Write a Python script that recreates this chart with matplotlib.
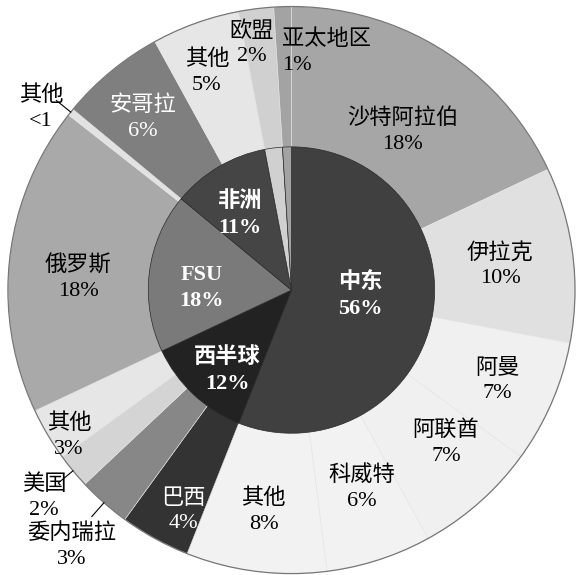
import numpy as np
import matplotlib
matplotlib.use('Agg')
import matplotlib.pyplot as plt

plt.rcParams['font.family'] = ['Liberation Serif', 'Noto Sans CJK SC']

# inner ring: regions
inner_names = ["中东", "西半球", "FSU", "非洲", "", ""]
inner_pct = ["56%", "12%", "18%", "11%", "", ""]
inner_vals = [56, 12, 18, 11, 2, 1]
inner_colors = ["#404040", "#222222", "#7a7a7a", "#454545", "#d0d0d0", "#a3a3a3"]

# outer ring: countries
outer_names = ["沙特阿拉伯", "伊拉克", "阿曼", "阿联酋", "科威特", "其他",
               "巴西", "委内瑞拉", "美国", "其他",
               "俄罗斯", "其他",
               "安哥拉", "其他",
               "欧盟", "亚太地区"]
outer_pct = ["18%", "10%", "7%", "7%", "6%", "8%",
             "4%", "3%", "2%", "3%",
             "18%", "<1",
             "6%", "5%",
             "2%", "1%"]
outer_vals = [18, 10, 7, 7, 6, 8,
              4, 3, 2, 3,
              17.6, 0.4,
              6, 5,
              2, 1]
outer_colors = ["#a6a6a6", "#e0e0e0", "#f0f0f0", "#f0f0f0", "#f2f2f2", "#f2f2f2",
                "#333333", "#878787", "#d4d4d4", "#e6e6e6",
                "#a9a9a9", "#e2e2e2",
                "#7f7f7f", "#e6e6e6",
                "#d0d0d0", "#a3a3a3"]
outer_text = ["black"] * 6 + ["white", "black", "black", "black",
                              "black", "black", "white", "black", "black", "black"]

# label placement (radius, angle offset in degrees, alignment)
outer_r = [0.685, 0.741, 0.793, 0.767, 0.741, 0.786, 0.868, 1.189, 1.138, 0.939,
           0.754, 1.092, 0.802, 0.825, 0.88, 0.84]
outer_dang = [-2.6, -0.4, -0.5, 3.9, 1.6, 0, 2.7, 0.8, 0.3, 2.7,
              3.3, 2.9, 1.2, 1.4, 1.9, 0.5]
outer_ha = ["center"] * 15 + ["left"]
leader = [False] * 7 + [True, True, False, False, True, False, False, False, False]
inner_r = [0.242, 0.365, 0.318, 0.321]
inner_dang = [6.6, 4.7, 6.0, 3.9]

fig = plt.figure(figsize=(5.76, 5.75), dpi=100)
ax = fig.add_axes([0, 0, 1, 1])

ax.pie(outer_vals, radius=1.0, colors=outer_colors, startangle=90, counterclock=False,
       wedgeprops=dict(edgecolor="#e4e4e4", linewidth=0.4))
ax.pie(inner_vals, radius=0.505, colors=inner_colors, startangle=90, counterclock=False,
       wedgeprops=dict(edgecolor="#2a2a2a", linewidth=0.5))
ax.add_patch(plt.Circle((0, 0), 1.0, fill=False, edgecolor="#777777", linewidth=0.9))

def mid_angles(vals):
    v = np.asarray(vals, dtype=float)
    cum = np.cumsum(v) / v.sum() * 360
    start = np.concatenate([[0], cum[:-1]])
    return 90 - (start + cum) / 2

ang_out = mid_angles(outer_vals)
for i, name in enumerate(outer_names):
    a = np.deg2rad(ang_out[i] + outer_dang[i])
    x, y = outer_r[i] * np.cos(a), outer_r[i] * np.sin(a)
    ax.text(x, y, name + "\n" + outer_pct[i], ha=outer_ha[i], va="center",
            multialignment="center" if outer_ha[i] == "center" else "left",
            fontsize=16, color=outer_text[i], linespacing=1.4)
    if leader[i]:
        b = np.deg2rad(ang_out[i])
        ax.plot([1.0 * np.cos(b), 1.065 * np.cos(b)], [1.0 * np.sin(b), 1.065 * np.sin(b)],
                color="black", linewidth=0.8)

ang_in = mid_angles(inner_vals)
for i in range(4):
    a = np.deg2rad(ang_in[i] + inner_dang[i])
    x, y = inner_r[i] * np.cos(a), inner_r[i] * np.sin(a)
    ax.text(x, y, inner_names[i] + "\n" + inner_pct[i], ha="center", va="center",
            fontsize=16, color="white", fontweight="bold", linespacing=1.4)

ax.set_xlim(-1.028, 1.0035)
ax.set_ylim(-1.005, 1.023)
ax.set_aspect("equal")
ax.axis("off")

plt.savefig("out.png", dpi=100)
plt.close()
